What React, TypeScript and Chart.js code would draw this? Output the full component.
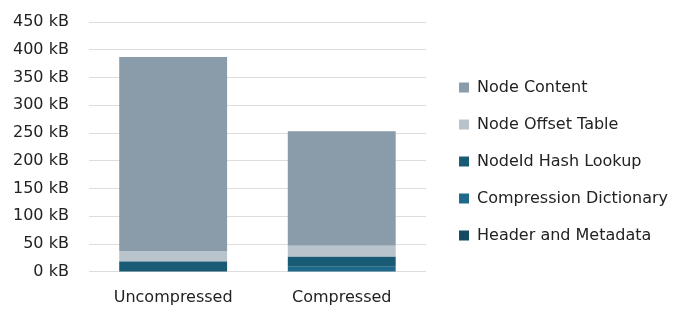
import React, { useEffect, useRef } from "react";
import { Chart, registerables } from "chart.js";

Chart.register(...registerables);

const categories = ["Uncompressed", "Compressed"];
const seriesNames = [
  "Header and Metadata",
  "Compression Dictionary",
  "NodeId Hash Lookup",
  "Node Offset Table",
  "Node Content",
];
const headerAndMetadata = [0.5, 0.5];
const compressionDictionary = [0, 8.5];
const nodeIdHashLookup = [18, 18];
const nodeOffsetTable = [19, 20];
const nodeContent = [349.5, 206];
const seriesColors = ["#154a63", "#1f6a8a", "#195a75", "#b8c3cb", "#8a9ba9"];
const yTicks = [0, 50, 100, 150, 200, 250, 300, 350, 400, 450];

const FONT = "'DejaVu Sans', sans-serif";
const LEGEND_GAP = 12;
const LEGEND_DY = -3;

const legendGap = {
  id: "legendGap",
  beforeInit(chart: any) {
    const lg = chart.legend;
    if (!lg) return;
    const fit = lg.fit;
    lg.fit = function () {
      fit.call(this);
      this.width += LEGEND_GAP;
    };
    const draw = lg.draw;
    lg.draw = function (...args: any[]) {
      this.left += LEGEND_GAP;
      this.top += LEGEND_DY;
      this.bottom += LEGEND_DY;
      draw.apply(this, args);
      this.left -= LEGEND_GAP;
      this.top -= LEGEND_DY;
      this.bottom -= LEGEND_DY;
    };
  },
};

export default function App() {
  const ref = useRef<HTMLCanvasElement | null>(null);

  useEffect(() => {
    document.body.style.margin = "0";
    const values = [
      headerAndMetadata,
      compressionDictionary,
      nodeIdHashLookup,
      nodeOffsetTable,
      nodeContent,
    ];
    const chart = new Chart(ref.current as HTMLCanvasElement, {
      type: "bar",
      data: {
        labels: categories,
        datasets: seriesNames.map((name, i) => ({
          label: name,
          data: values[i],
          backgroundColor: seriesColors[i],
          borderWidth: 0,
          barPercentage: 0.8,
          categoryPercentage: 0.8,
        })),
      },
      plugins: [legendGap],
      options: {
        animation: false,
        responsive: false,
        layout: { padding: { left: 13, right: 12, top: 22, bottom: 15 } },
        scales: {
          x: {
            stacked: true,
            grid: {
              display: true,
              color: "rgba(0,0,0,0)",
              drawTicks: true,
              tickLength: 16,
              tickColor: "rgba(0,0,0,0)",
            },
            border: { display: false },
            ticks: {
              color: "#222",
              font: { family: FONT, size: 16 },
              padding: 0,
              maxRotation: 0,
              minRotation: 0,
            },
          },
          y: {
            stacked: true,
            min: 0,
            max: 450,
            afterBuildTicks: (scale: any) => {
              scale.ticks = yTicks.map((v) => ({ value: v }));
            },
            grid: {
              color: "#dddddd",
              lineWidth: 1,
              drawTicks: true,
              tickLength: 20,
              tickColor: "rgba(0,0,0,0)",
            },
            border: { display: false },
            ticks: {
              color: "#222",
              font: { family: FONT, size: 16 },
              padding: 0,
              callback: (v: any) => `${v} kB`,
            },
          },
        },
        plugins: {
          legend: {
            position: "right",
            reverse: true,
            maxWidth: 400,
            labels: {
              boxWidth: 10,
              boxHeight: 10,
              padding: 21,
              color: "#222",
              font: { family: FONT, size: 16 },
            },
          },
          tooltip: { enabled: false },
        },
      } as any,
    });
    return () => chart.destroy();
  }, []);

  return (
    <div style={{ width: 690, height: 322 }}>
      <canvas ref={ref} width={690} height={322} style={{ display: "block" }} />
    </div>
  );
}
